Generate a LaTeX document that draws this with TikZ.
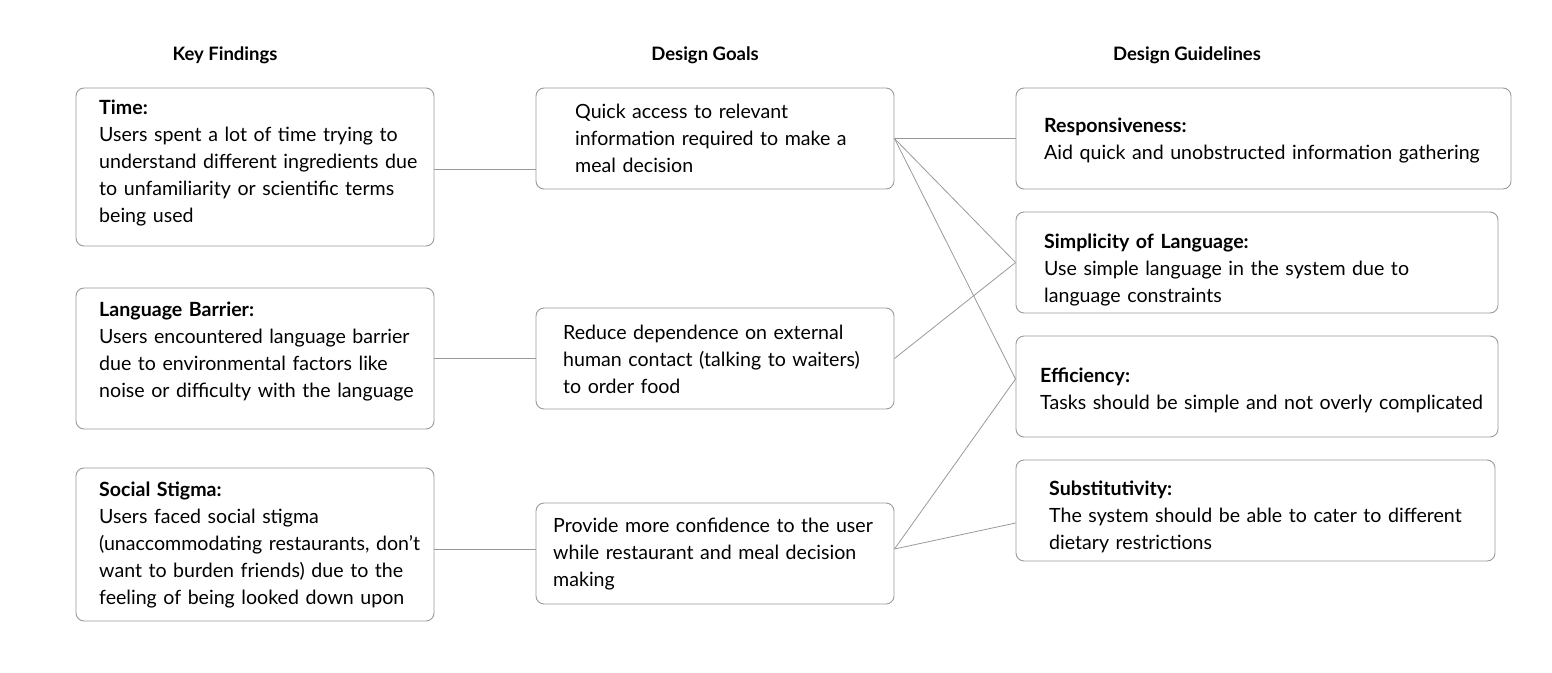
\documentclass[tikz,border=0pt]{standalone}
\usepackage{fontspec}
\setmainfont{Lato}
\begin{document}
\begin{tikzpicture}[x=1pt,y=-1pt,
        box/.style={draw=black!40,line width=0.9pt,rounded corners=8pt,inner sep=0pt},
        txt/.style={anchor=base west,inner sep=0pt,text width=470pt,align=left,font=\fontsize{19.6}{27}\selectfont},
        head/.style={anchor=base,inner sep=0pt,font=\fontsize{18.5}{20}\selectfont\bfseries},
        link/.style={draw=black!40,line width=0.8pt}
    ]
        \useasboundingbox (0,0) rectangle (1552,672);

        % Column headings
        \node[head] (hfind) at (225,60) {Key Findings};
        \node[head] (hgoal) at (705,60) {Design Goals};
        \node[head] (hguide) at (1187,60) {Design Guidelines};

        % Key findings
        \node[box,minimum width=358,minimum height=158] (time) at (255,167) {};
        \node[txt] (timetxt) at (99,114) {\textbf{Time:}\\Users spent a lot of time trying to\\understand different ingredients due\\to unfamiliarity or scientific terms\\being used};
        \node[box,minimum width=358,minimum height=141] (lang) at (255,358.5) {};
        \node[txt] (langtxt) at (99,316) {\textbf{Language Barrier:}\\Users encountered language barrier\\due to environmental factors like\\noise or difficulty with the language};
        \node[box,minimum width=358,minimum height=153] (stigma) at (255,544.5) {};
        \node[txt] (stigmatxt) at (99,496) {\textbf{Social Stigma:}\\Users faced social stigma\\(unaccommodating restaurants, don’t\\want to burden friends) due to the\\feeling of being looked down upon};

        % Design goals
        \node[box,minimum width=358,minimum height=101] (quick) at (715,138.5) {};
        \node[txt] (quicktxt) at (575,118) {Quick access to relevant\\information required to make a\\meal decision};
        \node[box,minimum width=358,minimum height=101] (reduce) at (715,358.5) {};
        \node[txt] (reducetxt) at (563,339) {Reduce dependence on external\\human contact (talking to waiters)\\to order food};
        \node[box,minimum width=358,minimum height=101] (confid) at (715,553.5) {};
        \node[txt] (confidtxt) at (553,532) {Provide more confidence to the user\\while restaurant and meal decision\\making};

        % Design guidelines
        \node[box,minimum width=495,minimum height=101] (resp) at (1263.5,138.5) {};
        \node[txt] (resptxt) at (1044,132) {\textbf{Responsiveness:}\\Aid quick and unobstructed information gathering};
        \node[box,minimum width=482,minimum height=101] (simple) at (1257,262.5) {};
        \node[txt] (simpletxt) at (1044,248) {\textbf{Simplicity of Language:}\\Use simple language in the system due to\\language constraints};
        \node[box,minimum width=482,minimum height=101] (effic) at (1257,386.5) {};
        \node[txt] (effictxt) at (1040,382) {\textbf{Efficiency:}\\Tasks should be simple and not overly complicated};
        \node[box,minimum width=479,minimum height=101] (subst) at (1255.5,510.5) {};
        \node[txt] (substtxt) at (1049,495) {\textbf{Substitutivity:}\\The system should be able to cater to different\\dietary restrictions};

        % Findings to goals
        \draw [link] ([yshift=-2pt]time.east) -- ([yshift=-2pt]time.east -| quick.west);
        \draw [link] (lang.east) -- (reduce.west);
        \draw [link] ([yshift=4.5pt]confid.west -| stigma.east) -- ([yshift=4.5pt]confid.west);

        % Goals to guidelines
        \draw [link] (quick.east) -- (resp.west);
        \draw [link] (quick.east) -- (simple.west);
        \draw [link] (quick.east) -- ([yshift=7.5pt]effic.west);
        \draw [link] (reduce.east) -- (simple.west);
        \draw [link] ([yshift=4.5pt]confid.east) -- ([yshift=7.5pt]effic.west);
        \draw [link] ([yshift=4.5pt]confid.east) -- ([yshift=-12.5pt]subst.west);
    \end{tikzpicture}
\end{document}
